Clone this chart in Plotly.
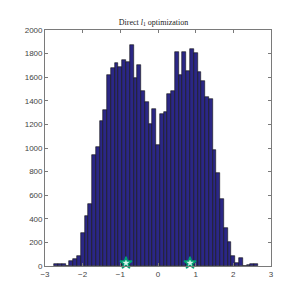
import plotly.graph_objects as go

bin_centers = [-2.7, -2.6, -2.5, -2.4, -2.3, -2.2, -2.1, -2.0, -1.9, -1.8, -1.7, -1.6,
               -1.5, -1.4, -1.3, -1.2, -1.1, -1.0, -0.9, -0.8, -0.7, -0.6, -0.5, -0.4,
               -0.3, -0.2, -0.1, 0.0, 0.1, 0.2, 0.3, 0.4, 0.5, 0.6, 0.7, 0.8, 0.9, 1.0,
               1.1, 1.2, 1.3, 1.4, 1.5, 1.6, 1.7, 1.8, 1.9, 2.0, 2.1, 2.2, 2.3, 2.4, 2.5, 2.6]
counts = [15, 15, 15, 0, 45, 57, 85, 277, 426, 525, 943, 1008,
          1231, 1325, 1616, 1675, 1723, 1686, 1748, 1726, 1875, 1593, 1703, 1480,
          1393, 1206, 1333, 1028, 1291, 1302, 1455, 1483, 1811, 1616, 1811, 1652, 1842, 1805,
          1641, 1565, 1432, 1413, 983, 788, 570, 318, 200, 88, 28, 68, 0, 7, 19, 19]
star_x = [-0.85, 0.85]
star_y = [25, 25]
x_ticks = [-3, -2, -1, 0, 1, 2, 3]
y_ticks = list(range(0, 2001, 200))

fig = go.Figure()
fig.add_trace(go.Bar(x=bin_centers, y=counts, width=0.1,
                     marker=dict(color="#2b2785", line=dict(color="#111111", width=0.6)),
                     showlegend=False))
fig.add_trace(go.Scatter(x=star_x, y=star_y, mode="markers",
                         marker=dict(symbol="star", size=9, color="#d8f5ee",
                                     line=dict(color="#00a070", width=1.5)),
                         showlegend=False, cliponaxis=False))

axis_common = dict(showgrid=False, zeroline=False, showline=True, mirror="ticks",
                   linecolor="#7a7a7a", linewidth=0.8, ticks="inside", ticklen=3,
                   tickcolor="#7a7a7a", tickfont=dict(family="Liberation Sans", size=8, color="#444444"))
fig.update_layout(
    width=291, height=291,
    margin=dict(l=37, r=28, t=22, b=33),
    paper_bgcolor="white", plot_bgcolor="white",
    bargap=0,
    title=dict(text="Direct <i>l</i><sub>1</sub> optimization", x=0.5, xanchor="center",
               y=1 - 14 / 291, yanchor="middle",
               font=dict(family="Liberation Serif", size=8, color="#222222")),
    xaxis=dict(range=[-3, 3], tickvals=x_ticks, **axis_common),
    yaxis=dict(range=[0, 2000], tickvals=y_ticks, **axis_common),
)
fig.write_html("out.html")
